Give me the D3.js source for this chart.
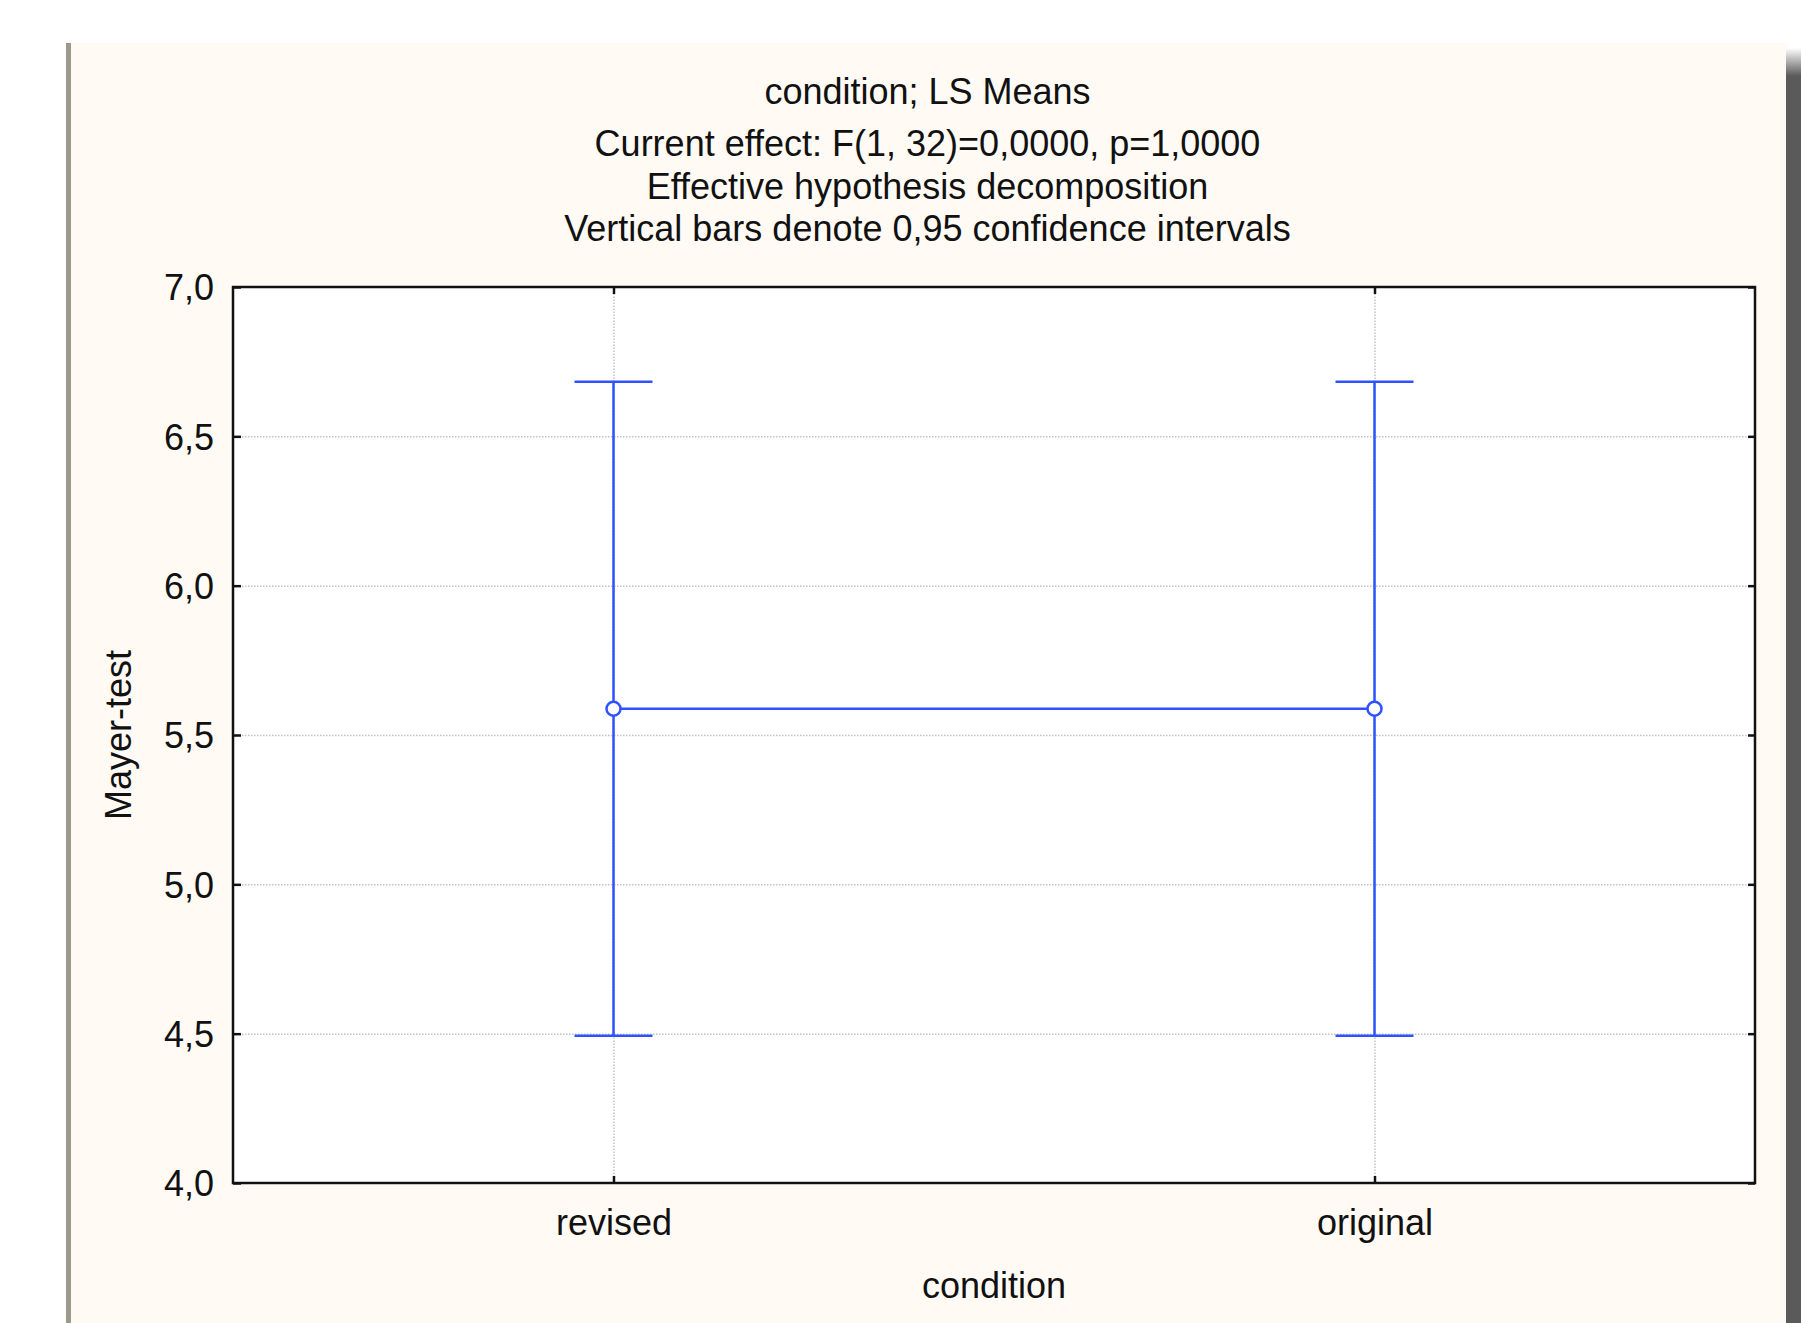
<!DOCTYPE html>
<html lang="en">
  <head>
    <meta charset="utf-8">
    <title>condition; LS Means</title>
    <script src="https://d3js.org/d3.v7.min.js"></script>
    <style type="text/css">
      body {
        margin: 0;
        background-color: white;
      }
      text {
        font-family: "Liberation Sans", Arial, sans-serif;
        font-size: 36px;
        fill: #111;
      }
      .grid line {
        stroke: #c2c2c2;
        stroke-width: 1.5px;
        stroke-dasharray: 1.5,1.5;
      }
      .grid path {
        display: none;
      }
    </style>
  </head>
  <body>
    <svg></svg>

    <script type="text/javascript">

    // data
    const categories = ["revised", "original"];
    const means = [5.588, 5.588];
    const ciLower = [4.493, 4.493];
    const ciUpper = [6.683, 6.683];
    const yTicks = [4.0, 4.5, 5.0, 5.5, 6.0, 6.5, 7.0];
    const titleLines = [
      "condition; LS Means",
      "Current effect: F(1, 32)=0,0000, p=1,0000",
      "Effective hypothesis decomposition",
      "Vertical bars denote 0,95 confidence intervals"
    ];
    const xTitle = "condition";
    const yTitle = "Mayer-test";

    const rows = categories.map((c, i) => ({cat: c, mean: means[i], lo: ciLower[i], hi: ciUpper[i]}));

    const W = 1801, H = 1323;
    const blue = "#2f52ff";

    // plot frame
    const pLeft = 233, pRight = 1755, pTop = 287, pBottom = 1183;

    const svg = d3.select("svg")
      .attr("width", W)
      .attr("height", H);

    // cream panel, grey left edge and dark shadow on the right
    const grad = svg.append("defs").append("linearGradient")
      .attr("id", "shade")
      .attr("x1", 0).attr("y1", 0).attr("x2", 0).attr("y2", 1);
    grad.append("stop").attr("offset", "0%").attr("stop-color", "#ffffff");
    grad.append("stop").attr("offset", "100%").attr("stop-color", "#5a5a5a");

    svg.append("rect")
      .attr("x", 69).attr("y", 43)
      .attr("width", 1786 - 69).attr("height", H - 43)
      .attr("fill", "#fffaf4");
    svg.append("rect")
      .attr("x", 66).attr("y", 43)
      .attr("width", 5).attr("height", H - 43)
      .attr("fill", "#9b988c");
    svg.append("rect")
      .attr("x", 1786).attr("y", 48)
      .attr("width", W - 1786).attr("height", 28)
      .attr("fill", "url(#shade)");
    svg.append("rect")
      .attr("x", 1786).attr("y", 76)
      .attr("width", W - 1786).attr("height", H - 76)
      .attr("fill", "#5a5a5a");

    svg.append("rect")
      .attr("x", pLeft).attr("y", pTop)
      .attr("width", pRight - pLeft).attr("height", pBottom - pTop)
      .attr("fill", "white");

    const x = d3.scalePoint()
      .domain(categories)
      .range([pLeft, pRight])
      .padding(0.5);

    const y = d3.scaleLinear()
      .domain([4, 7])
      .range([pBottom, pTop]);

    const fmt = d3.formatLocale({decimal: ",", thousands: ".", grouping: [3], currency: ["", ""]}).format(".1f");

    // dotted grid
    svg.append("g")
      .attr("class", "grid")
      .attr("transform", `translate(${pLeft},0)`)
      .call(d3.axisLeft(y).tickValues(yTicks.slice(1, -1)).tickSize(-(pRight - pLeft)).tickFormat(""));
    svg.append("g")
      .attr("class", "grid")
      .attr("transform", `translate(0,${pBottom})`)
      .call(d3.axisBottom(x).tickSize(-(pBottom - pTop)).tickFormat(""));

    // error bars
    const bars = svg.append("g")
      .attr("stroke", blue)
      .attr("stroke-width", 2.5)
      .attr("fill", "none");

    bars.selectAll(".ci")
      .data(rows)
      .join("line")
      .attr("x1", d => x(d.cat)).attr("x2", d => x(d.cat))
      .attr("y1", d => y(d.lo)).attr("y2", d => y(d.hi));

    bars.selectAll(".capHi")
      .data(rows)
      .join("line")
      .attr("x1", d => x(d.cat) - 39).attr("x2", d => x(d.cat) + 39)
      .attr("y1", d => y(d.hi)).attr("y2", d => y(d.hi));

    bars.selectAll(".capLo")
      .data(rows)
      .join("line")
      .attr("x1", d => x(d.cat) - 39).attr("x2", d => x(d.cat) + 39)
      .attr("y1", d => y(d.lo)).attr("y2", d => y(d.lo));

    // mean line and markers
    svg.append("path")
      .datum(rows)
      .attr("fill", "none")
      .attr("stroke", blue)
      .attr("stroke-width", 2.5)
      .attr("d", d3.line().x(d => x(d.cat)).y(d => y(d.mean)));

    svg.selectAll(".pt")
      .data(rows)
      .join("circle")
      .attr("cx", d => x(d.cat))
      .attr("cy", d => y(d.mean))
      .attr("r", 7)
      .attr("fill", "white")
      .attr("stroke", blue)
      .attr("stroke-width", 2.5);

    // inward ticks on all four sides
    const tickStyle = g => {
      g.select(".domain").remove();
      g.selectAll(".tick line").attr("stroke", "#111").attr("stroke-width", 2.5);
    };

    svg.append("g")
      .attr("transform", `translate(${pLeft},0)`)
      .call(d3.axisLeft(y).tickValues(yTicks).tickSize(-8).tickPadding(24).tickFormat(fmt))
      .call(tickStyle)
      .call(g => g.selectAll("text")
        .attr("font-size", null)
        .attr("font-family", null)
        .attr("x", -(pLeft - 214))
        .attr("dy", "0.36em"));

    svg.append("g")
      .attr("transform", `translate(${pRight},0)`)
      .call(d3.axisRight(y).tickValues(yTicks).tickSize(-7).tickFormat(""))
      .call(tickStyle);

    svg.append("g")
      .attr("transform", `translate(0,${pBottom})`)
      .call(d3.axisBottom(x).tickSize(-7).tickFormat(d => d))
      .call(tickStyle)
      .call(g => g.selectAll("text")
        .attr("font-size", null)
        .attr("font-family", null)
        .attr("y", 1235 - pBottom)
        .attr("dy", 0));

    svg.append("g")
      .attr("transform", `translate(0,${pTop})`)
      .call(d3.axisTop(x).tickSize(-7).tickFormat(""))
      .call(tickStyle);

    // frame
    svg.append("rect")
      .attr("x", pLeft).attr("y", pTop)
      .attr("width", pRight - pLeft).attr("height", pBottom - pTop)
      .attr("fill", "none")
      .attr("stroke", "#111")
      .attr("stroke-width", 2.5);

    // titles
    const titleY = [104, 156, 199, 241];
    svg.selectAll(".title")
      .data(titleLines)
      .join("text")
      .attr("class", "title")
      .attr("x", (69 + 1786) / 2)
      .attr("y", (d, i) => titleY[i])
      .attr("text-anchor", "middle")
      .text(d => d);

    svg.append("text")
      .attr("x", (pLeft + pRight) / 2)
      .attr("y", 1298)
      .attr("text-anchor", "middle")
      .text(xTitle);

    svg.append("text")
      .attr("transform", `translate(131,${(pTop + pBottom) / 2}) rotate(-90)`)
      .attr("text-anchor", "middle")
      .text(yTitle);

    </script>
  </body>
</html>
